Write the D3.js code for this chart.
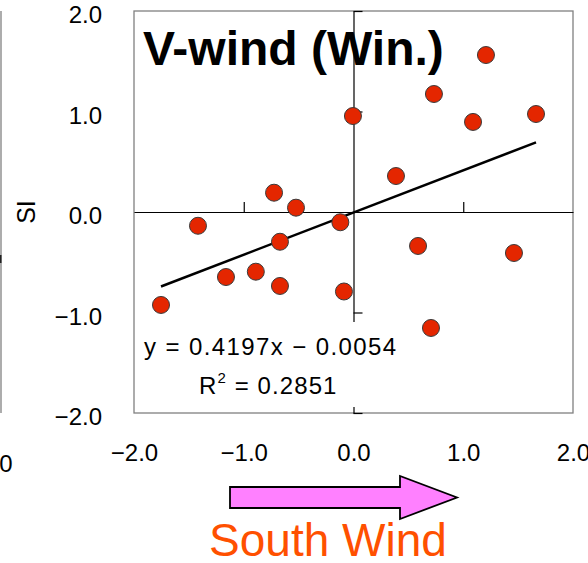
<!DOCTYPE html>
<html>
<head>
<meta charset="utf-8">
<script src="https://cdn.jsdelivr.net/npm/d3@7"></script>
<style>
  html, body { margin: 0; padding: 0; background: #fff; }
  svg { display: block; font-family: "Liberation Sans", Arial, sans-serif; }
</style>
</head>
<body>
<svg id="chart" width="588" height="563"></svg>
<script>
// ---- data ----
const vWind = [1.207, 0.733, -0.005, 1.089, 1.663, 0.387, -0.724, -0.524, -1.417, -0.120,
               -0.670, 0.588, 1.462, -1.162, -0.890, -0.670, -0.087, -1.754, 0.706];
const siVals = [1.562, 1.174, 0.955, 0.896, 0.975, 0.358, 0.192, 0.043, -0.137, -0.102,
                -0.296, -0.338, -0.408, -0.647, -0.594, -0.736, -0.791, -0.925, -1.154];
const xTicks = [-2, -1, 0, 1, 2];
const yTicks = [-2, -1, 0, 1, 2];
const slope = 0.4197;
const intercept = -0.0054;
const r2 = 0.2851;
const titleText = "V-wind (Win.)";
const yLabel = "SI";
const xLabel = "South Wind";

// ---- layout ----
const svg = d3.select("#chart");
const L = 134, R = 573, T = 11, B = 413;
const x = d3.scaleLinear().domain([-2, 2]).range([L, R]);
const y = d3.scaleLinear().domain([-2, 2]).range([B, T]);
const fmt = v => d3.format(".1f")(v);

// left neighbour panel fragment
svg.append("line").attr("x1", 1).attr("x2", 1).attr("y1", T).attr("y2", B)
  .attr("stroke", "#808080").attr("stroke-width", 1.3);
svg.append("line").attr("x1", 0.5).attr("x2", 0.5).attr("y1", 255).attr("y2", 263)
  .attr("stroke", "#222").attr("stroke-width", 2);
svg.append("text").text(yLabel)
  .attr("transform", "translate(35,212) rotate(-90)")
  .attr("text-anchor", "middle").attr("font-size", 25).attr("fill", "#000");
svg.append("text").text("0").attr("x", 6).attr("y", 464).attr("dy", "0.35em")
  .attr("text-anchor", "middle").attr("font-size", 24);

// frame
svg.append("rect").attr("x", L).attr("y", T).attr("width", R - L).attr("height", B - T)
  .attr("fill", "#fff").attr("stroke", "#808080").attr("stroke-width", 1.3);

// zero axes with ticks
const xAxisZero = svg.append("g").attr("transform", `translate(0,${y(0)})`)
  .call(d3.axisTop(x).tickValues(xTicks.filter(v => v !== 0 && Math.abs(v) !== 2))
        .tickSize(10).tickSizeOuter(0).tickFormat(""));
xAxisZero.select(".domain").attr("stroke", "#000").attr("stroke-width", 1.2);
xAxisZero.selectAll(".tick line").attr("stroke", "#000").attr("stroke-width", 1.2);

const yAxisZero = svg.append("g").attr("transform", `translate(${x(0)},0)`)
  .call(d3.axisRight(y).tickValues(yTicks.filter(v => v !== 0))
        .tickSize(9).tickSizeOuter(0).tickFormat(""));
yAxisZero.select(".domain").attr("stroke", "#000").attr("stroke-width", 1.2);
yAxisZero.selectAll(".tick line").attr("stroke", "#000").attr("stroke-width", 1.2);

// tick labels outside frame
const yLab = svg.append("g").attr("transform", `translate(${L},0)`)
  .call(d3.axisLeft(y).tickValues(yTicks).tickSize(0).tickPadding(32).tickFormat(fmt));
yLab.select(".domain").remove();
yLab.selectAll("text").attr("font-size", 24).attr("font-family", "Liberation Sans, Arial, sans-serif")
  .attr("fill", "#000").attr("y", 4);

const xLab = svg.append("g").attr("transform", `translate(0,${B})`)
  .call(d3.axisBottom(x).tickValues(xTicks).tickSize(0).tickPadding(31).tickFormat(fmt));
xLab.select(".domain").remove();
xLab.selectAll("text").attr("font-size", 24).attr("font-family", "Liberation Sans, Arial, sans-serif")
  .attr("fill", "#000");

// regression line over data extent
const xr = d3.extent(vWind);
svg.append("line")
  .attr("x1", x(xr[0])).attr("y1", y(slope * xr[0] + intercept))
  .attr("x2", x(xr[1])).attr("y2", y(slope * xr[1] + intercept))
  .attr("stroke", "#000").attr("stroke-width", 2.5);

// points
svg.append("g").selectAll("circle").data(vWind.map((v, i) => [v, siVals[i]]))
  .join("circle")
  .attr("cx", d => x(d[0])).attr("cy", d => y(d[1])).attr("r", 8.5)
  .attr("fill", "#E42600").attr("stroke", "#3a3a3a").attr("stroke-width", 1);

// equation box
svg.append("rect").attr("x", 138).attr("y", 322).attr("width", 262).attr("height", 85)
  .attr("fill", "#fff");
svg.append("text").attr("x", 144).attr("y", 355).attr("font-size", 24)
  .attr("letter-spacing", 1.4)
  .text(`y = ${slope.toFixed(4)}x \u2212 ${Math.abs(intercept).toFixed(4)}`);
const r2t = svg.append("text").attr("x", 199).attr("y", 394).attr("font-size", 24)
  .attr("letter-spacing", 1.1);
r2t.append("tspan").text("R");
r2t.append("tspan").attr("font-size", 15).attr("dy", -11).text("2");
r2t.append("tspan").attr("dy", 11).text(` = ${r2.toFixed(4)}`);

// title
svg.append("text").attr("x", 143).attr("y", 65).attr("font-size", 48)
  .attr("font-weight", "bold").attr("fill", "#000").text(titleText);

// arrow and x label
const ax0 = 230, ax1 = 400, ax2 = 457, ay = 497.5, bh = 10.5, hh = 21.5;
svg.append("path")
  .attr("d", `M${ax0},${ay - bh} L${ax1},${ay - bh} L${ax1},${ay - hh} L${ax2},${ay} L${ax1},${ay + hh} L${ax1},${ay + bh} L${ax0},${ay + bh} Z`)
  .attr("fill", "#FF80FF").attr("stroke", "#000").attr("stroke-width", 1.8)
  .attr("stroke-linejoin", "miter");
svg.append("text").attr("x", 328).attr("y", 556).attr("text-anchor", "middle")
  .attr("font-size", 46).attr("fill", "#FF5000").text(xLabel);
</script>
</body>
</html>
